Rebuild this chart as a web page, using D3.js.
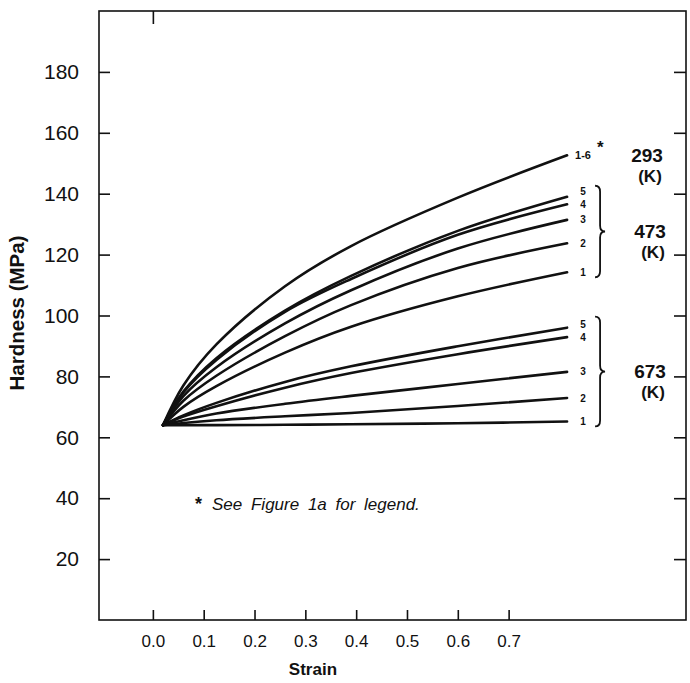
<!DOCTYPE html>
<html>
<head>
<meta charset="utf-8">
<script src="https://cdn.jsdelivr.net/npm/d3@7"></script>
<style>
  body { margin: 0; background: #fff; }
  text { font-family: "Liberation Sans", Arial, sans-serif; fill: #111; }
</style>
</head>
<body>
<div id="chart"></div>
<script>
const strainPts = [0.02, 0.06, 0.125, 0.26, 0.39, 0.6, 0.815];

// 293 K, conditions 1-6 all on one curve
const hard293 = [64, 77, 90.5, 109.6, 122.8, 138.7, 152.6];

// 473 K
const labels473 = ['5', '4', '3', '2', '1'];
const hard473 = [
  [64, 75, 86, 101.6, 113, 127.8, 139],
  [64, 74.7, 85.4, 101.2, 112, 126.5, 136.5],
  [64, 73.5, 83, 97.4, 108.3, 122, 131.4],
  [64, 72, 80.2, 93.2, 103.4, 115.6, 123.7],
  [64, 70, 76.8, 87.8, 96.3, 106.3, 114.2]
];

// 673 K
const labels673 = ['5', '4', '3', '2', '1'];
const hard673 = [
  [64, 67.2, 71.3, 78.2, 83.3, 89.9, 96],
  [64, 66.8, 70.2, 76.3, 81.1, 87.3, 92.9],
  [64, 65.6, 67.8, 71, 73.6, 77.5, 81.5],
  [64, 64.7, 65.6, 66.9, 68, 70.3, 72.9],
  [64, 64, 64, 64.1, 64.3, 64.6, 65.2]
];

const yTicks = [20, 40, 60, 80, 100, 120, 140, 160, 180];
const xTicks = [0, 0.1, 0.2, 0.3, 0.4, 0.5, 0.6, 0.7];

const width = 690, height = 683;
const frame = { left: 99, top: 11, right: 686, bottom: 620 };

const svg = d3.select('#chart')
  .append('svg')
  .attr('width', width)
  .attr('height', height);

const x = d3.scaleLinear().domain([-0.106, 1.049]).range([frame.left, frame.right]);
const y = d3.scaleLinear().domain([0, 200]).range([frame.bottom, frame.top]);

// frame
svg.append('rect')
  .attr('x', frame.left)
  .attr('y', frame.top)
  .attr('width', frame.right - frame.left)
  .attr('height', frame.bottom - frame.top)
  .attr('fill', 'none')
  .attr('stroke', '#111')
  .attr('stroke-width', 1.6);

// axes, ticks pointing inward
function styleAxis(g, size) {
  g.select('.domain').remove();
  g.selectAll('.tick line').attr('stroke', '#111').attr('stroke-width', 1.6);
  g.selectAll('.tick text').attr('font-size', size).attr('font-family', '"Liberation Sans", Arial, sans-serif').attr('fill', '#111');
}

svg.append('g')
  .attr('transform', `translate(${frame.left},0)`)
  .call(d3.axisLeft(y).tickValues(yTicks).tickSize(-11).tickPadding(20).tickFormat(d3.format('d')))
  .call(g => styleAxis(g, 21));

svg.append('g')
  .attr('transform', `translate(0,${frame.bottom})`)
  .call(d3.axisBottom(x).tickValues(xTicks).tickSize(-10).tickPadding(15).tickFormat(d3.format('.1f')))
  .call(g => styleAxis(g, 17));

svg.append('g')
  .attr('transform', `translate(${frame.right},0)`)
  .call(d3.axisRight(y).tickValues(yTicks).tickSize(-12).tickFormat(''))
  .call(g => styleAxis(g, 10));

svg.append('g')
  .attr('transform', `translate(0,${frame.top})`)
  .call(d3.axisTop(x).tickValues([0]).tickSize(-13).tickFormat(''))
  .call(g => styleAxis(g, 10));

// axis titles
svg.append('text')
  .attr('transform', `translate(24,313) rotate(-90)`)
  .attr('text-anchor', 'middle')
  .attr('font-size', 20.5)
  .attr('font-weight', 'bold')
  .text('Hardness (MPa)');

svg.append('text')
  .attr('x', x(0.315))
  .attr('y', 675)
  .attr('text-anchor', 'middle')
  .attr('font-size', 17)
  .attr('font-weight', 'bold')
  .text('Strain');

// curves
const line = d3.line()
  .x((d, i) => x(strainPts[i]))
  .y(d => y(d))
  .curve(d3.curveCatmullRom.alpha(0.5));

const allSeries = [hard293].concat(hard473, hard673);

svg.append('g')
  .selectAll('path')
  .data(allSeries)
  .enter().append('path')
  .attr('d', d => line(d))
  .attr('fill', 'none')
  .attr('stroke', '#111')
  .attr('stroke-width', 2.6)
  .attr('stroke-linecap', 'round');

const xEnd = x(strainPts[strainPts.length - 1]);
const last = arr => arr[arr.length - 1];

// 293 K label
svg.append('text')
  .attr('x', xEnd + 8)
  .attr('y', y(last(hard293)))
  .attr('dy', '0.35em')
  .attr('font-size', 11)
  .attr('font-weight', 'bold')
  .text('1-6');
svg.append('text')
  .attr('x', xEnd + 30)
  .attr('y', y(last(hard293)) - 2)
  .attr('font-size', 17)
  .attr('font-weight', 'bold')
  .text('*');

function tempLabel(cx, yTop, temp) {
  svg.append('text')
    .attr('x', cx).attr('y', yTop)
    .attr('text-anchor', 'middle')
    .attr('font-size', 19)
    .attr('font-weight', 'bold')
    .text(temp);
  svg.append('text')
    .attr('x', cx + 3).attr('y', yTop + 20)
    .attr('text-anchor', 'middle')
    .attr('font-size', 17)
    .attr('font-weight', 'bold')
    .text('(K)');
}

tempLabel(647, y(last(hard293)) + 7, '293');

// curly brace path
function brace(bx, y0, y1, w) {
  const ym = (y0 + y1) / 2, r = 6, xm = bx + w / 2;
  return `M${bx},${y0} Q${xm},${y0} ${xm},${y0 + r} L${xm},${ym - r} Q${xm},${ym} ${bx + w},${ym}` +
    ` Q${xm},${ym} ${xm},${ym + r} L${xm},${y1 - r} Q${xm},${y1} ${bx},${y1}`;
}

function group(values, labels, temp) {
  const ends = values.map(v => y(last(v)));
  // spread labels so that close curve ends keep readable numbers
  const ys = ends.slice();
  for (let i = ys.length - 2; i >= 0; i--) {
    if (ys[i + 1] - ys[i] < 13) ys[i] = ys[i + 1] - 13;
  }
  svg.append('g')
    .selectAll('text')
    .data(labels)
    .enter().append('text')
    .attr('x', xEnd + 16)
    .attr('y', (d, i) => ys[i])
    .attr('dy', '0.35em')
    .attr('text-anchor', 'middle')
    .attr('font-size', 10)
    .attr('font-weight', 'bold')
    .text(d => d);
  const y0 = d3.min(ends) - 11, y1 = d3.max(ends) + 5;
  svg.append('path')
    .attr('d', brace(xEnd + 28, y0, y1, 10))
    .attr('fill', 'none')
    .attr('stroke', '#111')
    .attr('stroke-width', 1.8);
  tempLabel(650, (y0 + y1) / 2 + 6, temp);
}

group(hard473, labels473, '473');
group(hard673, labels673, '673');

// footnote
svg.append('text')
  .attr('x', 195)
  .attr('y', 510)
  .attr('font-size', 18)
  .attr('font-weight', 'bold')
  .text('*');
svg.append('text')
  .attr('x', 212)
  .attr('y', 510)
  .attr('font-size', 17)
  .attr('font-style', 'italic')
  .attr('word-spacing', 4)
  .text('See Figure 1a for legend.');
</script>
</body>
</html>
